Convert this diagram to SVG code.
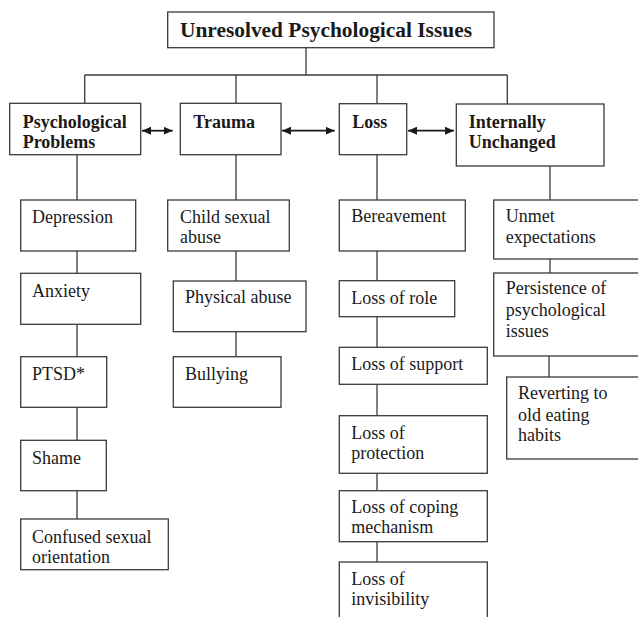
<svg xmlns="http://www.w3.org/2000/svg" width="638" height="617" viewBox="0 0 638 617">
<style>
.box{fill:#fff;stroke:#3a3a3a;stroke-width:1.3}
.t{font-family:"Liberation Serif","Times New Roman",serif;font-size:18px;fill:#1a1a1a}
.b{font-weight:bold}
.top{font-size:21.4px}
.c{stroke:#3a3a3a;stroke-width:1.3;fill:none}
.ar{stroke:#1a1a1a;stroke-width:1.8}
</style>
<defs>
<marker id="ah" markerUnits="userSpaceOnUse" markerWidth="9" markerHeight="8" refX="9" refY="4" orient="auto-start-reverse">
<path d="M0,0 L9,4 L0,8 z" fill="#1a1a1a"/>
</marker>
</defs>
<rect width="638" height="617" fill="#fff"/>
<g id="connectors">
<line class="c" x1="306" y1="47.7" x2="306" y2="75"/>
<line class="c" x1="84.7" y1="75" x2="507.3" y2="75"/>
<line class="c" x1="84.7" y1="75" x2="84.7" y2="103.3"/>
<line class="c" x1="236" y1="75" x2="236" y2="103.3"/>
<line class="c" x1="377" y1="75" x2="377" y2="103.3"/>
<line class="c" x1="507.3" y1="75" x2="507.3" y2="104"/>
<line class="c ar" x1="142" y1="130.7" x2="172.7" y2="130.7" marker-start="url(#ah)" marker-end="url(#ah)"/>
<line class="c ar" x1="282" y1="130.7" x2="334.7" y2="130.7" marker-start="url(#ah)" marker-end="url(#ah)"/>
<line class="c ar" x1="408" y1="130.7" x2="454" y2="130.7" marker-start="url(#ah)" marker-end="url(#ah)"/>
<line class="c" x1="77" y1="154.7" x2="77" y2="200"/>
<line class="c" x1="77" y1="251" x2="77" y2="273.3"/>
<line class="c" x1="77" y1="324.3" x2="77" y2="356.7"/>
<line class="c" x1="77" y1="407.3" x2="77" y2="440.3"/>
<line class="c" x1="77" y1="490.7" x2="77" y2="519"/>
<line class="c" x1="236" y1="154.7" x2="236" y2="200"/>
<line class="c" x1="236" y1="251" x2="236" y2="281"/>
<line class="c" x1="236" y1="331.7" x2="236" y2="356.7"/>
<line class="c" x1="377" y1="154.7" x2="377" y2="200"/>
<line class="c" x1="377" y1="251" x2="377" y2="280.7"/>
<line class="c" x1="377" y1="316.7" x2="377" y2="347.3"/>
<line class="c" x1="377" y1="384.3" x2="377" y2="415.7"/>
<line class="c" x1="377" y1="473.3" x2="377" y2="490.7"/>
<line class="c" x1="377" y1="541.7" x2="377" y2="562"/>
<line class="c" x1="550" y1="166" x2="550" y2="200"/>
<line class="c" x1="550" y1="259" x2="550" y2="273"/>
<line class="c" x1="549" y1="356" x2="549" y2="377"/>
</g>
<g id="root">
<rect class="box" x="167.7" y="12" width="326.3" height="35.7"/>
<text class="t b top" x="180" y="36.7">Unresolved Psychological Issues</text>
</g>
<g id="psych">
<rect class="box" x="9.7" y="103.3" width="131" height="51.4"/>
<text class="t b" x="22.7" y="127.7">Psychological</text>
<text class="t b" x="22.7" y="147.7">Problems</text>
</g>
<g id="trauma">
<rect class="box" x="180.3" y="103.3" width="100.7" height="51.4"/>
<text class="t b" x="193.3" y="127.7">Trauma</text>
</g>
<g id="loss">
<rect class="box" x="339.3" y="103.7" width="67.4" height="51"/>
<text class="t b" x="352.3" y="127.7">Loss</text>
</g>
<g id="internally">
<rect class="box" x="456.3" y="104" width="147.7" height="62"/>
<text class="t b" x="468.7" y="127.7">Internally</text>
<text class="t b" x="468.7" y="147.7">Unchanged</text>
</g>
<g id="depression">
<rect class="box" x="20.7" y="200" width="115" height="51"/>
<text class="t" x="32" y="223">Depression</text>
</g>
<g id="anxiety">
<rect class="box" x="20.7" y="273.3" width="120" height="51"/>
<text class="t" x="32" y="297">Anxiety</text>
</g>
<g id="ptsd">
<rect class="box" x="20.7" y="356.7" width="86" height="50.6"/>
<text class="t" x="32" y="380">PTSD*</text>
</g>
<g id="shame">
<rect class="box" x="20.7" y="440.3" width="85.6" height="50.4"/>
<text class="t" x="32" y="464">Shame</text>
</g>
<g id="confused">
<rect class="box" x="20.7" y="519" width="147.6" height="50.7"/>
<text class="t" x="32" y="542.7">Confused sexual</text>
<text class="t" x="32" y="562.7">orientation</text>
</g>
<g id="child">
<rect class="box" x="167.7" y="200" width="121.6" height="51"/>
<text class="t" x="180" y="223">Child sexual</text>
<text class="t" x="180" y="243.3">abuse</text>
</g>
<g id="physical">
<rect class="box" x="173.3" y="281" width="132.7" height="50.7"/>
<text class="t" x="185" y="303.3">Physical abuse</text>
</g>
<g id="bullying">
<rect class="box" x="173.3" y="356.7" width="107.7" height="50.6"/>
<text class="t" x="185" y="380">Bullying</text>
</g>
<g id="bereavement">
<rect class="box" x="339.3" y="200" width="126" height="51"/>
<text class="t" x="351.3" y="222.3">Bereavement</text>
</g>
<g id="role">
<rect class="box" x="339.3" y="280.7" width="115.4" height="36"/>
<text class="t" x="351.3" y="304.3">Loss of role</text>
</g>
<g id="support">
<rect class="box" x="339.3" y="347.3" width="148" height="37"/>
<text class="t" x="351.3" y="370">Loss of support</text>
</g>
<g id="protection">
<rect class="box" x="339.3" y="415.7" width="148" height="57.6"/>
<text class="t" x="351.3" y="439">Loss of</text>
<text class="t" x="351.3" y="459.3">protection</text>
</g>
<g id="coping">
<rect class="box" x="339.3" y="490.7" width="148" height="51"/>
<text class="t" x="351.3" y="513.3">Loss of coping</text>
<text class="t" x="351.3" y="533.3">mechanism</text>
</g>
<g id="invisibility">
<rect class="box" x="339.3" y="562" width="148" height="80"/>
<text class="t" x="351.3" y="584.5">Loss of</text>
<text class="t" x="351.3" y="604.5">invisibility</text>
</g>
<g id="unmet">
<rect class="box" x="493.7" y="200" width="170" height="59"/>
<text class="t" x="505.7" y="222.3">Unmet</text>
<text class="t" x="505.7" y="243.3">expectations</text>
</g>
<g id="persistence">
<rect class="box" x="493.7" y="273" width="170" height="83"/>
<text class="t" x="505.7" y="294.3">Persistence of</text>
<text class="t" x="505.7" y="315.7">psychological</text>
<text class="t" x="505.7" y="336.7">issues</text>
</g>
<g id="reverting">
<rect class="box" x="506.7" y="377" width="170" height="82"/>
<text class="t" x="518" y="399.3">Reverting to</text>
<text class="t" x="518" y="421">old eating</text>
<text class="t" x="518" y="440.7">habits</text>
</g>
</svg>
